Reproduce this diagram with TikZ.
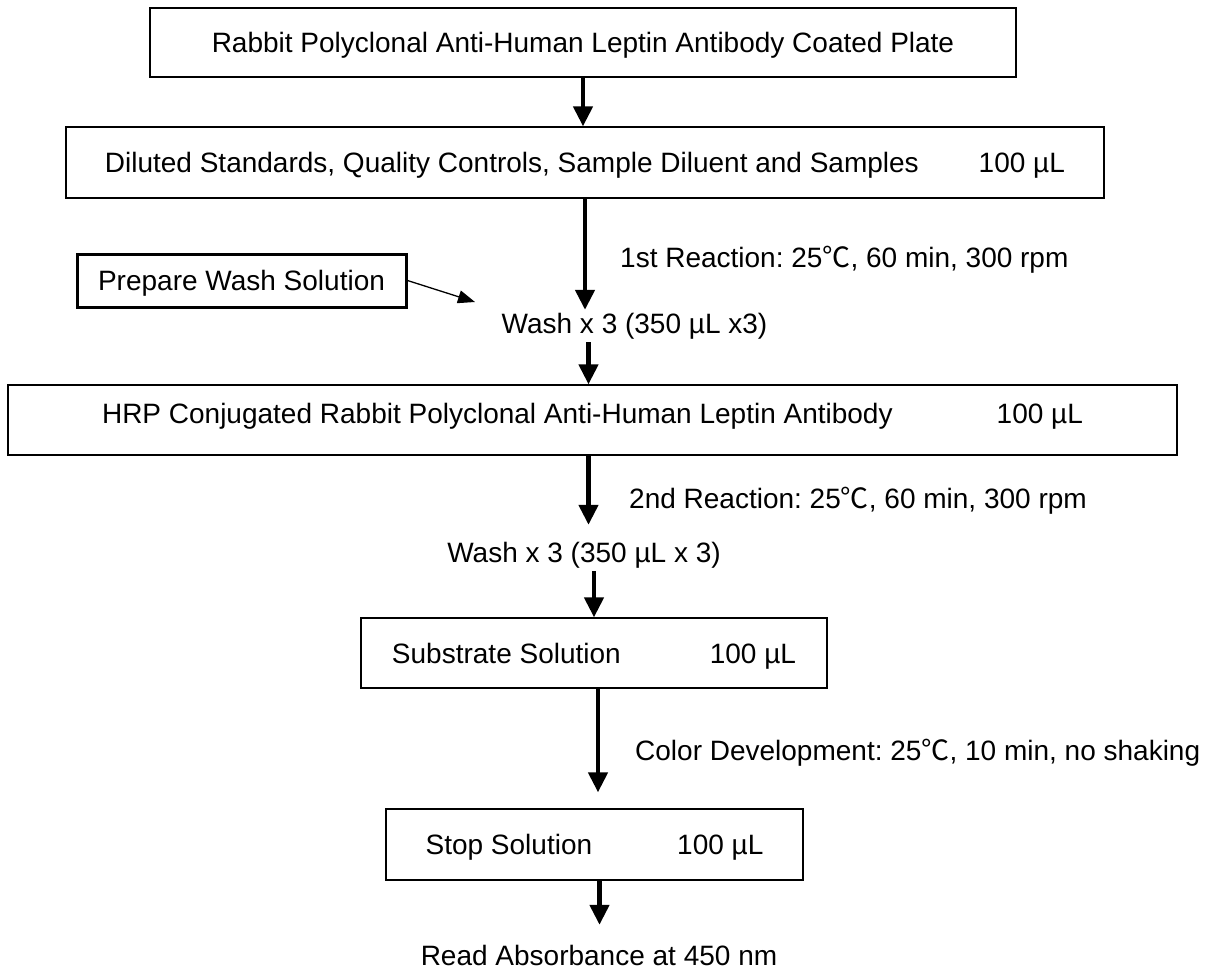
\documentclass[tikz,border=0pt]{standalone}
\usepackage{fontspec}
\setmainfont{Liberation Sans}
\newfontfamily\cjk{Noto Sans CJK SC}
\usetikzlibrary{arrows.meta,calc}
\newcommand{\degc}{{\cjk ℃}}
\frenchspacing

\begin{document}
\begin{tikzpicture}[x=1pt,y=-1pt,font=\fontsize{28}{34}\selectfont,
 b/.style={draw,line width=1.3pt,inner sep=0pt,text height=20pt,text depth=0pt},
 wb/.style={b,line width=3pt,minimum width=329pt,minimum height=53pt},
 lbl/.style={inner sep=3pt,text height=20pt,text depth=6pt},
 a/.style={-{Triangle[length=20pt,width=19pt]},line width=4.5pt},
 sa/.style={-{Triangle[length=17pt,width=13pt]},line width=1.3pt}]
\useasboundingbox (0,0) rectangle (1213,978);
\node[b,minimum width=866pt,minimum height=69pt] (a) at (583,42.5) {Rabbit Polyclonal Anti-Human Leptin Antibody Coated Plate};
\node[b,minimum width=1038pt,minimum height=71pt] (b) at (585,162.5) {Diluted Standards, Quality Controls, Sample Diluent and Samples\hspace{60pt}100 µL};
\node[wb] (w) at (241.5,280.5) {Prepare Wash Solution};
\coordinate (t) at (475,302);
\node[lbl,anchor=base] (w1) at (634.5,333) {Wash x 3 (350 µL x3)};
\node[lbl,anchor=base west] (r1) at (617,267) {1st Reaction: 25\degc, 60 min, 300 rpm};
\node[b,text depth=14pt,minimum width=1169pt,minimum height=70pt] (c) at (592.5,420) {HRP Conjugated Rabbit Polyclonal Anti-Human Leptin Antibody\hspace{104pt}100 µL};
\node[lbl,anchor=base west] (r2) at (626,508) {2nd Reaction: 25\degc, 60 min, 300 rpm};
\node[lbl,anchor=base] (w2) at (584,562) {Wash x 3 (350 µL x 3)};
\node[b,minimum width=466pt,minimum height=70pt] (d) at (594,653) {Substrate Solution\hspace{89pt}100 µL};
\node[lbl,anchor=base west] (r3) at (632,760) {Color Development: 25\degc, 10 min, no shaking};
\node[b,minimum width=417pt,minimum height=71pt] (e) at (594.5,844.5) {Stop Solution\hspace{85pt}100 µL};
\node[lbl,anchor=base] (f) at (599,965) {Read Absorbance at 450 nm};
\draw[a] (a.south)--(a.south|-b.north);\draw[a] (b.south)--(b.south|-w1.north);
\draw[sa] (w.east)--(t);
\draw[a] ($(w1.south-|c.north)+(-4,0)$)--($(c.north)+(-4,0)$);\draw[a,shorten >=14pt] ($(c.south)+(-4,0)$)--($(c.south|-w2.north)+(-4,0)$);
\draw[a] (w2.south-|d.north)--(d.north);\draw[a,shorten >=16pt] ($(d.south)+(4,0)$)--($(d.south|-e.north)+(4,0)$);
\draw[a,shorten >=17pt] ($(e.south)+(5,0)$)--($(e.south|-f.north)+(5,0)$);
\end{tikzpicture}
\end{document}
